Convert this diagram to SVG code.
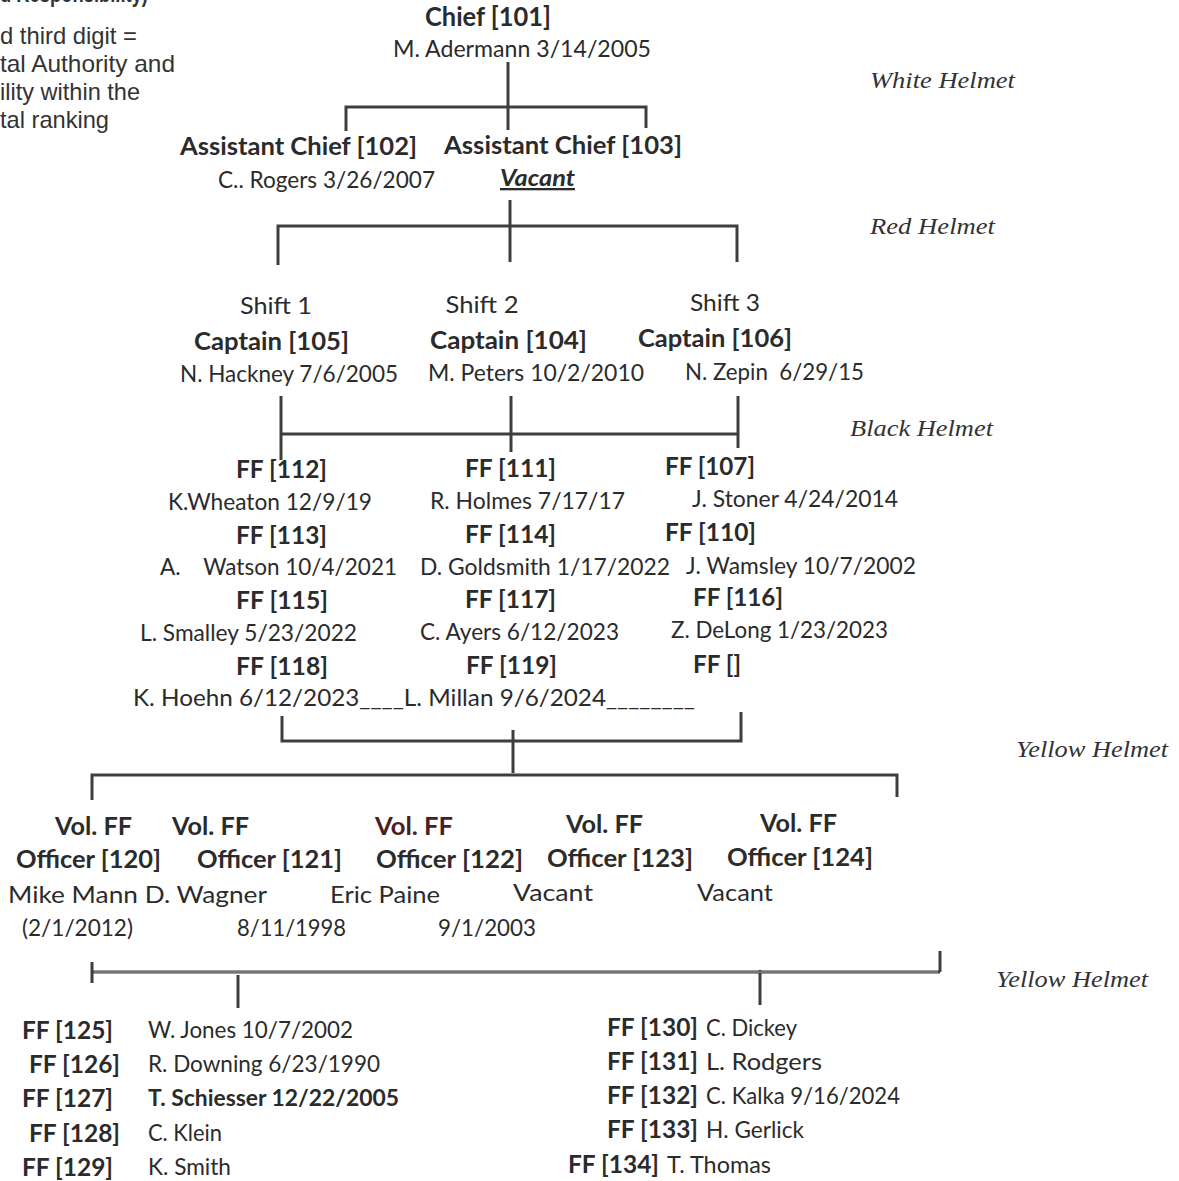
<svg xmlns="http://www.w3.org/2000/svg" width="1179" height="1181" viewBox="0 0 1179 1181">
<style>
text{fill:#2b2b2b}
.note{font-family:"Liberation Sans",Arial,sans-serif;font-size:24px;fill:#333}
.b{font-family:Lato,"Open Sans",sans-serif;font-weight:bold}
.r{font-family:Lato,"Open Sans",sans-serif}
.c{text-anchor:middle}
.h{font-family:"Liberation Serif","DejaVu Serif",serif;font-style:italic;font-size:24px;fill:#333}
.s1{font-size:27px}.s2{font-size:24px}.s3{font-size:23px}.s4{font-size:25px}
.ln{fill:none;stroke:#3e3e3e;stroke-width:3}
</style>
<rect width="1179" height="1181" fill="#fff"/>
<g id="notes">
<text class="note" x="0" y="2" font-weight="bold" textLength="148" lengthAdjust="spacingAndGlyphs">d Responsibility)</text>
<text class="note" x="0" y="44" textLength="137" lengthAdjust="spacingAndGlyphs">d third digit =</text>
<text class="note" x="0" y="72" textLength="175" lengthAdjust="spacingAndGlyphs">tal Authority and</text>
<text class="note" x="0" y="100" textLength="140" lengthAdjust="spacingAndGlyphs">ility within the</text>
<text class="note" x="0" y="128" textLength="109" lengthAdjust="spacingAndGlyphs">tal ranking</text>
</g>
<g id="helmets">
<text class="h" x="870" y="88" textLength="145" lengthAdjust="spacingAndGlyphs">White Helmet</text>
<text class="h" x="870" y="234" textLength="125" lengthAdjust="spacingAndGlyphs">Red Helmet</text>
<text class="h" x="850" y="436" textLength="143" lengthAdjust="spacingAndGlyphs">Black Helmet</text>
<text class="h" x="1016" y="757" textLength="152" lengthAdjust="spacingAndGlyphs">Yellow Helmet</text>
<text class="h" x="996" y="987" textLength="152" lengthAdjust="spacingAndGlyphs">Yellow Helmet</text>
</g>
<g id="connectors">
<path class="ln" d="M508,62 V130 M346,131 V107 H646 V128"/>
<path class="ln" d="M510,200 V262 M278,265 V226 H737 V262"/>
<path class="ln" d="M281,396 V460 M511,396 V452 M738,396 V448 M281,434 H738"/>
<path class="ln" d="M282,716 V741 H741 V712 M513,730 V773 M92,800 V775 H897 V797"/>
<path class="ln" d="M92,962 V983 M92,972 H940 M940,951 V972 M238,975 V1008 M760,970 V1005"/>
<path d="M94,972 H938" stroke="#aaa" stroke-width="1.2" fill="none"/>
</g>
<g id="chief">
<text class="b c s1" x="488" y="26" textLength="126" lengthAdjust="spacingAndGlyphs">Chief [101]</text>
<text class="r c s2" x="522" y="57" textLength="258" lengthAdjust="spacingAndGlyphs">M. Adermann 3/14/2005</text>
</g>
<g id="asst102">
<text class="b c s4" x="298.5" y="155" textLength="237" lengthAdjust="spacingAndGlyphs">Assistant Chief [102]</text>
<text class="r c s3" x="326.5" y="188" textLength="217" lengthAdjust="spacingAndGlyphs">C.. Rogers 3/26/2007</text>
</g>
<g id="asst103">
<text class="b c s4" x="563" y="154" textLength="238" lengthAdjust="spacingAndGlyphs">Assistant Chief [103]</text>
<text class="b c s3" x="537.5" y="186" font-style="italic" text-decoration="underline" textLength="75" lengthAdjust="spacingAndGlyphs">Vacant</text>
</g>
<g id="capt105">
<text class="r c s2" x="276" y="314" textLength="72" lengthAdjust="spacingAndGlyphs">Shift 1</text>
<text class="b c s4" x="271.5" y="350" textLength="155" lengthAdjust="spacingAndGlyphs">Captain [105]</text>
<text class="r c s3" x="289" y="382" textLength="218" lengthAdjust="spacingAndGlyphs">N. Hackney 7/6/2005</text>
</g>
<g id="capt104">
<text class="r c s2" x="482" y="313" textLength="73" lengthAdjust="spacingAndGlyphs">Shift 2</text>
<text class="b c s4" x="508.5" y="349" textLength="157" lengthAdjust="spacingAndGlyphs">Captain [104]</text>
<text class="r c s3" x="536" y="381" textLength="216" lengthAdjust="spacingAndGlyphs">M. Peters 10/2/2010</text>
</g>
<g id="capt106">
<text class="r c s2" x="725" y="311" textLength="70" lengthAdjust="spacingAndGlyphs">Shift 3</text>
<text class="b c s4" x="715" y="347" textLength="154" lengthAdjust="spacingAndGlyphs">Captain [106]</text>
<text class="r c s3" x="774.5" y="380" xml:space="preserve" textLength="179" lengthAdjust="spacingAndGlyphs">N. Zepin  6/29/15</text>
</g>
<g id="ff-shift1">
<text class="b c s2" x="281.5" y="478" textLength="91" lengthAdjust="spacingAndGlyphs">FF [112]</text>
<text class="r c s3" x="270" y="510" textLength="204" lengthAdjust="spacingAndGlyphs">K.Wheaton 12/9/19</text>
<text class="b c s2" x="281.5" y="544" textLength="91" lengthAdjust="spacingAndGlyphs">FF [113]</text>
<text class="r c s3" x="278.5" y="575" xml:space="preserve" textLength="237" lengthAdjust="spacingAndGlyphs">A.    Watson 10/4/2021</text>
<text class="b c s2" x="282" y="609" textLength="92" lengthAdjust="spacingAndGlyphs">FF [115]</text>
<text class="r c s3" x="248.5" y="641" textLength="217" lengthAdjust="spacingAndGlyphs">L. Smalley 5/23/2022</text>
<text class="b c s2" x="282" y="675" textLength="92" lengthAdjust="spacingAndGlyphs">FF [118]</text>
</g>
<g id="ff-shift2">
<text class="b c s2" x="510.5" y="477" textLength="91" lengthAdjust="spacingAndGlyphs">FF [111]</text>
<text class="r c s3" x="527.5" y="509" textLength="195" lengthAdjust="spacingAndGlyphs">R. Holmes 7/17/17</text>
<text class="b c s2" x="510.5" y="543" textLength="91" lengthAdjust="spacingAndGlyphs">FF [114]</text>
<text class="r c s3" x="545" y="575" textLength="250" lengthAdjust="spacingAndGlyphs">D. Goldsmith 1/17/2022</text>
<text class="b c s2" x="510.5" y="608" textLength="91" lengthAdjust="spacingAndGlyphs">FF [117]</text>
<text class="r c s3" x="519.5" y="640" textLength="199" lengthAdjust="spacingAndGlyphs">C. Ayers 6/12/2023</text>
<text class="b c s2" x="511.5" y="674" textLength="91" lengthAdjust="spacingAndGlyphs">FF [119]</text>
</g>
<g id="ff-shift3">
<text class="b c s2" x="710" y="475" textLength="90" lengthAdjust="spacingAndGlyphs">FF [107]</text>
<text class="r c s3" x="795" y="507" textLength="206" lengthAdjust="spacingAndGlyphs">J. Stoner 4/24/2014</text>
<text class="b c s2" x="710.5" y="541" textLength="91" lengthAdjust="spacingAndGlyphs">FF [110]</text>
<text class="r c s3" x="801" y="574" textLength="230" lengthAdjust="spacingAndGlyphs">J. Wamsley 10/7/2002</text>
<text class="b c s2" x="738" y="606" textLength="90" lengthAdjust="spacingAndGlyphs">FF [116]</text>
<text class="r c s3" x="779.5" y="638" textLength="217" lengthAdjust="spacingAndGlyphs">Z. DeLong 1/23/2023</text>
<text class="b c s2" x="717" y="673" textLength="48" lengthAdjust="spacingAndGlyphs">FF []</text>
</g>
<g id="ff-bottom-names">
<text class="r s3" x="133" y="706" textLength="562" lengthAdjust="spacingAndGlyphs">K. Hoehn 6/12/2023____L. Millan 9/6/2024________</text>
</g>
<g id="vol120">
<text class="b c s2" x="93.5" y="835" textLength="77" lengthAdjust="spacingAndGlyphs">Vol. FF</text>
<text class="b c s2" x="88.5" y="868" textLength="145" lengthAdjust="spacingAndGlyphs">Officer [120]</text>
</g>
<g id="vol121">
<text class="b c s2" x="210.5" y="835" textLength="77" lengthAdjust="spacingAndGlyphs">Vol. FF</text>
<text class="b c s2" x="269.5" y="868" textLength="145" lengthAdjust="spacingAndGlyphs">Officer [121]</text>
</g>
<g id="vol122">
<text class="b c s2" x="414" y="835" style="fill:#4a1e22" textLength="78" lengthAdjust="spacingAndGlyphs">Vol. FF</text>
<text class="b c s2" x="449.5" y="868" textLength="147" lengthAdjust="spacingAndGlyphs">Officer [122]</text>
</g>
<g id="vol123">
<text class="b c s2" x="604.5" y="833" textLength="77" lengthAdjust="spacingAndGlyphs">Vol. FF</text>
<text class="b c s2" x="620" y="867" textLength="146" lengthAdjust="spacingAndGlyphs">Officer [123]</text>
</g>
<g id="vol124">
<text class="b c s2" x="798.5" y="832" textLength="77" lengthAdjust="spacingAndGlyphs">Vol. FF</text>
<text class="b c s2" x="800" y="866" textLength="146" lengthAdjust="spacingAndGlyphs">Officer [124]</text>
</g>
<g id="vol-names">
<text class="r s3" x="8" y="903" textLength="259" lengthAdjust="spacingAndGlyphs">Mike Mann D. Wagner</text>
<text class="r s3" x="330" y="903" textLength="110" lengthAdjust="spacingAndGlyphs">Eric Paine</text>
<text class="r s3" x="513" y="901" textLength="80" lengthAdjust="spacingAndGlyphs">Vacant</text>
<text class="r s3" x="697" y="901" textLength="76" lengthAdjust="spacingAndGlyphs">Vacant</text>
<text class="r s3" x="22" y="936" textLength="111" lengthAdjust="spacingAndGlyphs">(2/1/2012)</text>
<text class="r s3" x="237" y="936" textLength="109" lengthAdjust="spacingAndGlyphs">8/11/1998</text>
<text class="r s3" x="438" y="936" textLength="98" lengthAdjust="spacingAndGlyphs">9/1/2003</text>
</g>
<g id="ff-left">
<text class="b s2" x="22" y="1039" textLength="91" lengthAdjust="spacingAndGlyphs">FF [125]</text>
<text class="r s3" x="148" y="1038" textLength="205" lengthAdjust="spacingAndGlyphs">W. Jones 10/7/2002</text>
<text class="b s2" x="29" y="1073" textLength="91" lengthAdjust="spacingAndGlyphs">FF [126]</text>
<text class="r s3" x="148" y="1072" textLength="232" lengthAdjust="spacingAndGlyphs">R. Downing 6/23/1990</text>
<text class="b s2" x="22" y="1107" textLength="91" lengthAdjust="spacingAndGlyphs">FF [127]</text>
<text class="b s3" x="148" y="1106" textLength="251" lengthAdjust="spacingAndGlyphs">T. Schiesser 12/22/2005</text>
<text class="b s2" x="29" y="1142" textLength="91" lengthAdjust="spacingAndGlyphs">FF [128]</text>
<text class="r s3" x="148" y="1141" textLength="74" lengthAdjust="spacingAndGlyphs">C. Klein</text>
<text class="b s2" x="22" y="1176" textLength="91" lengthAdjust="spacingAndGlyphs">FF [129]</text>
<text class="r s3" x="148" y="1175" textLength="83" lengthAdjust="spacingAndGlyphs">K. Smith</text>
</g>
<g id="ff-right">
<text class="b s2" x="607" y="1036" textLength="91" lengthAdjust="spacingAndGlyphs">FF [130]</text>
<text class="r s3" x="706" y="1036" textLength="91" lengthAdjust="spacingAndGlyphs">C. Dickey</text>
<text class="b s2" x="607" y="1070" textLength="91" lengthAdjust="spacingAndGlyphs">FF [131]</text>
<text class="r s3" x="706" y="1070" textLength="116" lengthAdjust="spacingAndGlyphs">L. Rodgers</text>
<text class="b s2" x="607" y="1104" textLength="91" lengthAdjust="spacingAndGlyphs">FF [132]</text>
<text class="r s3" x="706" y="1104" textLength="194" lengthAdjust="spacingAndGlyphs">C. Kalka 9/16/2024</text>
<text class="b s2" x="607" y="1138" textLength="91" lengthAdjust="spacingAndGlyphs">FF [133]</text>
<text class="r s3" x="706" y="1138" textLength="98" lengthAdjust="spacingAndGlyphs">H. Gerlick</text>
<text class="b s2" x="568" y="1173" textLength="91" lengthAdjust="spacingAndGlyphs">FF [134]</text>
<text class="r s3" x="667" y="1173" textLength="104" lengthAdjust="spacingAndGlyphs">T. Thomas</text>
</g>
</svg>
